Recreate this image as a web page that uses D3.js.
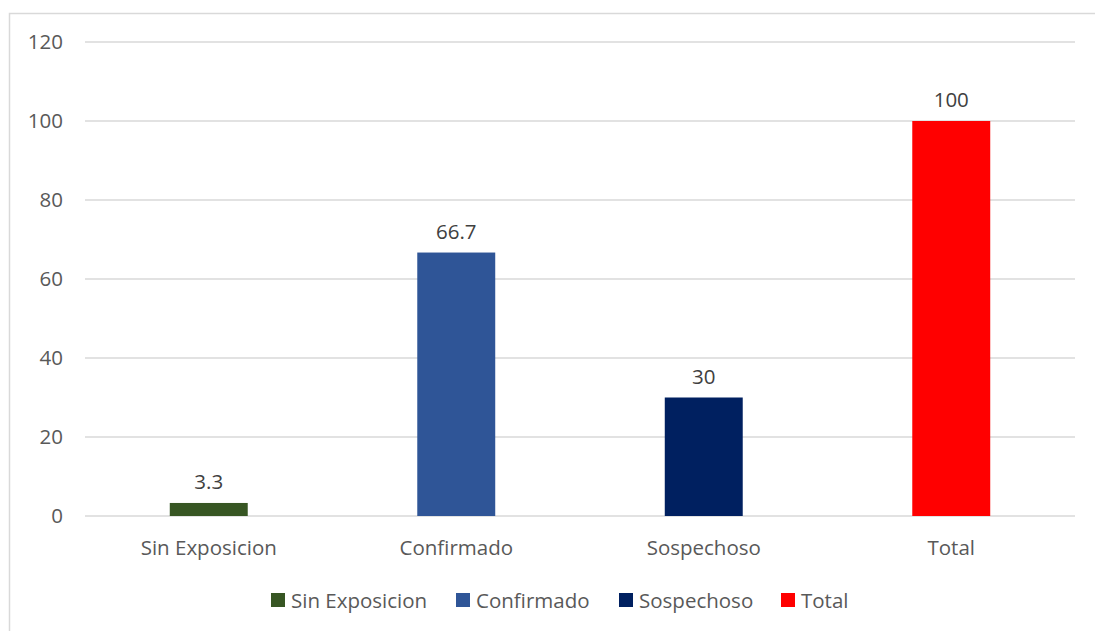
<!DOCTYPE html>
<html><head><meta charset="utf-8">
<script src="https://cdn.jsdelivr.net/npm/d3@7"></script>
<style>body{margin:0;background:#fff}svg{display:block}</style>
</head><body>
<script>
const categories = ["Sin Exposicion","Confirmado","Sospechoso","Total"];
const values = [3.3, 66.7, 30, 100];
const colors = ["#375623","#2F5597","#002060","#FF0000"];
const yTicks = [0,20,40,60,80,100,120];

const W=1095,H=631;
const svg=d3.select("body").append("svg").attr("width",W).attr("height",H);
const font="'Open Sans', sans-serif";
const fs=20.5;
svg.append("rect").attr("x",9.5).attr("y",13.5).attr("width",1095).attr("height",640)
  .attr("fill","none").attr("stroke","#d9d9d9").attr("stroke-width",1.5);

const x=d3.scaleBand().domain(categories).range([85,1075]).paddingInner(0.685).paddingOuter(0.3425);
const y=d3.scaleLinear().domain([0,120]).range([516,42]);

const gy=svg.append("g");
gy.selectAll("line").data(yTicks).join("line")
 .attr("x1",85).attr("x2",1075).attr("y1",d=>y(d)).attr("y2",d=>y(d))
 .attr("stroke","#d9d9d9").attr("stroke-width",1.5);
const yAxis=svg.append("g").attr("transform","translate(63,0)")
 .call(d3.axisLeft(y).tickValues(yTicks).tickSize(0).tickPadding(0));
yAxis.select(".domain").remove();
yAxis.selectAll("text").attr("font-family",font).attr("font-size",fs).attr("fill","#595959");

svg.selectAll("rect.bar").data(values).join("rect").attr("class","bar")
 .attr("x",(d,i)=>x(categories[i])).attr("width",x.bandwidth())
 .attr("y",d=>y(d)).attr("height",d=>y(0)-y(d)).attr("fill",(d,i)=>colors[i]);

svg.selectAll("text.lbl").data(values).join("text").attr("class","lbl")
 .attr("x",(d,i)=>x(categories[i])+x.bandwidth()/2).attr("y",d=>y(d)-14)
 .attr("text-anchor","middle").attr("font-family",font).attr("font-size",fs).attr("fill","#404040")
 .text(d=>d);

const xAxis=svg.append("g").attr("transform","translate(0,516)")
 .call(d3.axisBottom(x).tickSize(0).tickPadding(24));
xAxis.select(".domain").remove();
xAxis.selectAll("text").attr("font-family",font).attr("font-size",fs).attr("fill","#595959");

// legend
const legX=[271,456,619,781];
const lg=svg.append("g");
categories.forEach((c,i)=>{
  lg.append("rect").attr("x",legX[i]).attr("y",593).attr("width",14).attr("height",14).attr("fill",colors[i]);
  lg.append("text").attr("x",legX[i]+20).attr("y",608).attr("font-family",font).attr("font-size",fs)
    .attr("fill","#595959").text(c);
});
</script>
</body></html>
